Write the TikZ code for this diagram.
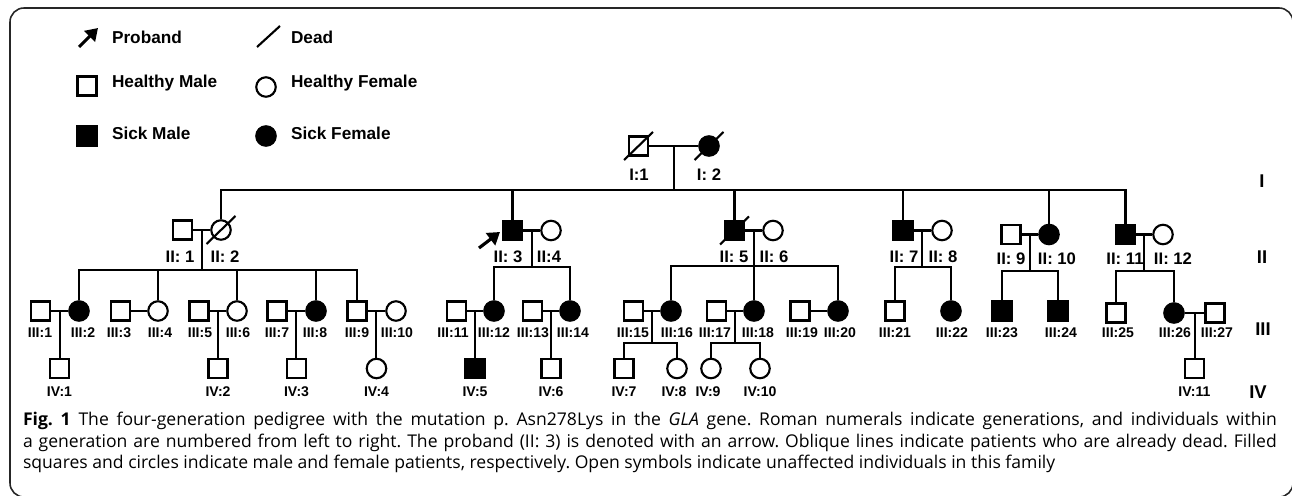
\documentclass[tikz,border=0pt]{standalone}
\usepackage{fontspec}
\setmainfont{Liberation Sans}
\newfontfamily\capfont{Open Sans}
\usetikzlibrary{arrows.meta}
\frenchspacing

\begin{document}
\begin{tikzpicture}[
  x=0.02cm, y=-0.02cm,
  line width=1.2pt,
  male/.style = {draw,rectangle,minimum size=0.38cm,inner sep=0pt},
  female/.style = {draw,circle,minimum size=0.39cm,inner sep=0pt},
  sick/.style = {fill=black},
  sickmale/.style = {male,sick},
  sickfemale/.style = {female,sick},
  tag/.style = {font=\bfseries\fontsize{8}{9}\selectfont,inner sep=0pt},
  bigtag/.style = {font=\bfseries\fontsize{9.5}{11}\selectfont,inner sep=0pt},
  gen/.style = {font=\bfseries\fontsize{10.5}{12}\selectfont,inner sep=0pt},
  legtext/.style = {font=\bfseries\fontsize{9.8}{11}\selectfont,anchor=west,inner sep=0pt},
  proband/.style = {-{Triangle[length=0.24cm,width=0.3cm]},line width=1.8pt}
  ]
  \useasboundingbox (0,0) rectangle (1292,496);
  \begin{scope}
    \clip (0,0) rectangle (1292,496);
    \draw[line width=0.9pt,black!85,rounded corners=0.28cm] (10,8) rectangle (1293,497);
  \end{scope}
  %
  % legend
  \coordinate (lgA) at (79,47);
  \coordinate (lgB) at (98,28);
  \draw[proband] (lgA) -- (lgB);
  \node[legtext] (lgProband) at (111,37) {Proband};
  \coordinate (lgC) at (257,47);
  \coordinate (lgD) at (280,26);
  \draw (lgC) -- (lgD);
  \node[legtext] (lgDead) at (290,37) {Dead};
  \node[male] (lgHM) at (87,86) {};
  \node[legtext] (lgHMt) at (111,83) {Healthy Male};
  \node[female] (lgHF) at (266,87) {};
  \node[legtext] (lgHFt) at (290,83) {Healthy Female};
  \node[sickmale] (lgSM) at (87,136) {};
  \node[legtext] (lgSMt) at (111,133) {Sick Male};
  \node[sickfemale] (lgSF) at (266,136) {};
  \node[legtext] (lgSFt) at (290,133) {Sick Female};
  %
  % generation I
  \node[male] (I1) at (638.5,146) {};
  \node[sickfemale] (I2) at (709,146) {};
  %
  % generation II
  \node[male] (II1) at (182.5,230) {};
  \node[female] (II2) at (221,230) {};
  \node[sickmale] (II3) at (512.5,230.5) {};
  \node[female] (II4) at (551,230.5) {};
  \node[sickmale] (II5) at (734.5,230.5) {};
  \node[female] (II6) at (773,230.5) {};
  \node[sickmale] (II7) at (903,230.5) {};
  \node[female] (II8) at (942,230.5) {};
  \node[male] (II9) at (1011,234.5) {};
  \node[sickfemale] (II10) at (1049,234.5) {};
  \node[sickmale] (II11) at (1125.5,234.5) {};
  \node[female] (II12) at (1163,234.5) {};
  %
  % generation III
  \foreach \n/\x/\s in {1/40.5/male, 2/79/sickfemale, 3/120.5/male, 4/158/female,
      5/199/male, 6/237/female, 7/277/male, 8/316/sickfemale, 9/357/male, 10/396/female,
      11/456.5/male, 12/494/sickfemale, 13/532.5/male, 14/570/sickfemale,
      15/633.5/male, 16/671/sickfemale, 17/716.5/male, 18/754/sickfemale,
      19/800/male, 20/838/sickfemale, 21/895/male, 22/951/sickfemale,
      23/1002/sickmale, 24/1058/sickmale}
    \node[\s] (III\n) at (\x,311) {};
  \node[male] (III25) at (1116,313) {};
  \node[sickfemale] (III26) at (1174,313) {};
  \node[male] (III27) at (1215,313) {};
  %
  % generation IV
  \foreach \n/\x/\s in {1/59.5/male, 2/218/male, 3/296.5/male, 4/376.5/female,
      5/475/sickmale, 6/551/male, 7/624/male, 8/677/female, 9/711/female,
      10/760/female, 11/1194.5/male}
    \node[\s] (IV\n) at (\x,368.5) {};
  %
  % couples
  \foreach \a/\b in {I1/I2, II1/II2, II3/II4, II5/II6, II7/II8, II9/II10, II11/II12,
      III1/III2, III3/III4, III5/III6, III7/III8, III9/III10, III11/III12,
      III13/III14, III15/III16, III17/III18, III19/III20, III26/III27}
    \draw (\a) -- coordinate[pos=.5] (c\a) (\b);
  %
  % sibships
  \foreach \p/\y/\kids in {I1/190/{II2,II3,II5,II7,II10,II11},
      II1/270/{III2,III4,III6,III8,III9}, II3/267/{III12,III14},
      II5/266/{III16,III18,III20}, II7/267/{III21,III22},
      II9/271/{III23,III24}, II11/271/{III25,III26},
      III15/343/{IV7,IV8}, III17/343/{IV9,IV10}} {
    \coordinate (s\p) at (c\p |- 0,\y);
    \draw (c\p) -- (s\p);
    \foreach \c in \kids
      \draw (\c) |- (s\p);
  }
  \foreach \p/\k in {III1/IV1, III5/IV2, III7/IV3, III9/IV4, III11/IV5,
      III13/IV6, III26/IV11}
    \draw (c\p) -- (c\p |- \k.north);
  %
  % dead
  \foreach \p in {I1,I2,II2,II5}
    \draw (\p.center) +(-14.5,14) -- +(14.5,-14);
  %
  % proband
  \coordinate (pa) at (479,248);
  \coordinate (pb) at (500,232);
  \draw[proband] (pa) -- (pb);
  %
  % labels
  \node[bigtag] (tI1) at (639,175) {I:1};
  \node[bigtag] (tI2) at (709,175) {I: 2};
  \foreach \n/\x/\y/\t in {1/180/257/II: 1, 2/225/257/II: 2, 3/508/257/II: 3,
      4/549/257/II:4, 5/734/257/II: 5, 6/774/257/II: 6, 7/904/257/II: 7,
      8/943/257/II: 8, 9/1011/259/II: 9, 10/1057/259/II: 10, 11/1125/259/II: 11,
      12/1173/259/II: 12}
    \node[bigtag] (tII\n) at (\x,\y) {\t};
  \foreach \n/\x in {1/40, 2/83, 3/119, 4/160, 5/200, 6/238, 7/277, 8/315, 9/357,
      10/397, 11/453, 12/494, 13/533, 14/573, 15/633, 16/677, 17/715, 18/758,
      19/802, 20/840, 21/895, 22/952, 23/1002, 24/1061, 25/1118, 26/1175, 27/1217}
    \node[tag] (tIII\n) at (\x,333) {III:\n};
  \foreach \n/\x in {1/59.5, 2/218, 3/296.5, 4/376.5, 5/475, 6/551, 7/624,
      8/674, 9/708, 10/760, 11/1194.5}
    \node[tag] (tIV\n) at (\x,392) {IV:\n};
  %
  % generations
  \node[gen] (gI) at (1262,181) {I};
  \node[gen] (gII) at (1262,257) {II};
  \node[gen] (gIII) at (1263,329) {III};
  \node[gen] (gIV) at (1258,392) {IV};
  %
  % caption
  \node[anchor=north west,inner sep=0pt,text width=25.08cm,align=justify,
        font=\capfont\fontsize{10}{12.3}\selectfont] (caption) at (22,411)
    {\textbf{Fig. 1} The four-generation pedigree with the mutation p. Asn278Lys in the
     \textit{GLA} gene. Roman numerals indicate generations, and individuals within\linebreak
     a generation are numbered from left to right. The proband (II: 3) is denoted with an
     arrow. Oblique lines indicate patients who are already dead. Filled\linebreak
     squares and circles indicate male and female patients, respectively. Open symbols
     indicate unaffected individuals in this family};
\end{tikzpicture}
\end{document}
